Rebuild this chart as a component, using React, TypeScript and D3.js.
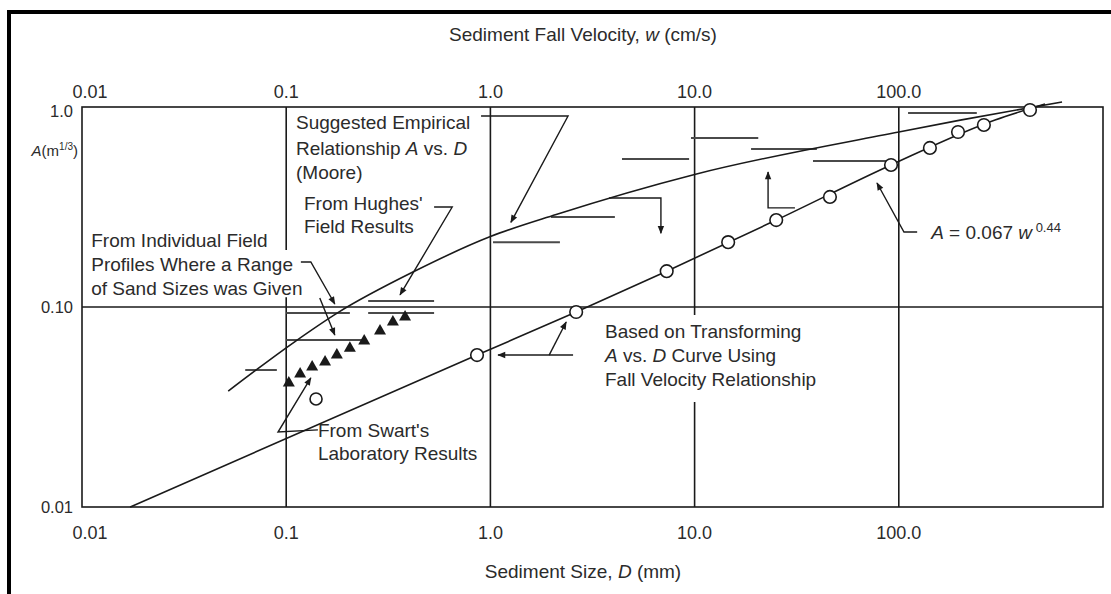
import React from 'react';
import * as d3 from 'd3';

// ---------- data ----------
const decadeValues = [0.01, 0.1, 1, 10, 100];
const decadeLabels = ['0.01', '0.1', '1.0', '10.0', '100.0'];
const yTickValues = [1, 0.1, 0.01];
const yTickLabels = ['1.0', '0.10', '0.01'];

// Suggested empirical relationship A vs D (Moore)
const mooreD = [0.052, 0.11, 0.18, 0.42, 1.0, 2.1, 10, 100, 200, 630];
const mooreA = [0.038, 0.067, 0.094, 0.15, 0.225, 0.29, 0.46, 0.75, 0.86, 1.06];

// Transformed curve A = 0.067 w^0.44
const transD = [0.0172, 0.86, 2.63, 7.3, 25.1, 91.6, 296, 520];
const transA = [0.01, 0.0575, 0.0944, 0.151, 0.272, 0.513, 0.861, 1.035];

// Open circles on transformed curve
const circleD = [0.86, 2.63, 7.3, 14.6, 25.1, 46, 91.6, 142, 195, 261, 439];
const circleA = [0.0575, 0.0944, 0.151, 0.211, 0.272, 0.355, 0.513, 0.624, 0.75, 0.813, 0.966];

// Isolated open circle
const swartCircleD = [0.14];
const swartCircleA = [0.0347];

// Filled triangles
const triD = [0.103, 0.117, 0.134, 0.155, 0.177, 0.205, 0.241, 0.288, 0.333, 0.382];
const triA = [0.0422, 0.0468, 0.0507, 0.0537, 0.0582, 0.063, 0.0684, 0.0767, 0.0851, 0.0902];

// Horizontal range bars (field results)
const barD1 = [0.1, 0.252, 0.252, 0.1, 0.063, 1.03, 1.98, 4.41, 9.6, 18.9, 38, 111];
const barD2 = [0.205, 0.53, 0.53, 0.235, 0.09, 2.19, 4.07, 9.4, 20.5, 39.7, 90.6, 241];
const barA = [0.0933, 0.107, 0.0933, 0.0684, 0.0484, 0.211, 0.282, 0.55, 0.7, 0.617, 0.537, 0.933];

// ---------- component ----------
const FONT = "'Liberation Sans', Arial, Helvetica, sans-serif";
const INK = '#1a1a1a';
const TXT = '#2b2b2b';

export default function App() {
  const W = 1111, H = 594;
  const x = d3.scaleLog().domain([0.01, 1000]).range([82, 1103]);
  const y = d3.scaleLog().domain([0.01, 1]).range([507, 107]);
  const P = (d: number, a: number) => [x(d), y(a)] as [number, number];
  const pl = (pts: [number, number][]) => pts.map(([d, a]) => P(d, a).join(',')).join(' ');

  const line = d3.line<[number, number]>().x(d => x(d[0])).y(d => y(d[1])).curve(d3.curveMonotoneX);
  const moorePts = mooreD.map((d, i) => [d, mooreA[i]] as [number, number]);
  const transPts = transD.map((d, i) => [d, transA[i]] as [number, number]);

  const fs = 19;
  const triPath = (cx: number, cy: number) => {
    const s = 6;
    return `M${cx},${cy - s} L${cx + s},${cy + s * 0.75} L${cx - s},${cy + s * 0.75} Z`;
  };

  // vertical gridlines with gaps (data units for A)
  const vGrid: { d: number; gaps: [number, number][] }[] = [
    { d: 0.1, gaps: [[0.112, 0.193]] },
    { d: 1, gaps: [] },
    { d: 10, gaps: [[0.0335, 0.0912]] },
    { d: 100, gaps: [] },
  ];
  const vSegments = vGrid.flatMap(g => {
    const stops: number[] = [0.01];
    g.gaps.forEach(([lo, hi]) => { stops.push(lo, hi); });
    stops.push(1);
    const segs: [number, number][] = [];
    for (let i = 0; i < stops.length; i += 2) segs.push([stops[i], stops[i + 1]]);
    return segs.map(s => ({ d: g.d, a0: s[0], a1: s[1] }));
  });

  const textProps = { fontFamily: FONT, fontSize: fs, fill: TXT };
  const tickDx = (i: number) => (i === 0 ? 8 : 0);

  return (
    <svg width={W} height={H} style={{ position: 'absolute', left: 0, top: 0, background: '#fff' }}>
      <defs>
        <marker id="arr" viewBox="0 0 10 10" refX="9" refY="5" markerWidth="10" markerHeight="8"
          markerUnits="userSpaceOnUse" orient="auto">
          <path d="M0,1 L10,5 L0,9 Z" fill={INK} />
        </marker>
      </defs>
      <rect x={0} y={0} width={W} height={H} fill="#fff" />
      {/* outer frame */}
      <line x1={7} y1={12} x2={W} y2={12} stroke="#000" strokeWidth={4} />
      <line x1={9} y1={10} x2={9} y2={H} stroke="#000" strokeWidth={4} />

      {/* plot border */}
      <rect x={x(0.01)} y={y(1)} width={x(1000) - x(0.01)} height={y(0.01) - y(1)}
        fill="none" stroke={INK} strokeWidth={1.6} />
      {/* grid */}
      {vSegments.map((s, i) => (
        <line key={'vg' + i} x1={x(s.d)} x2={x(s.d)} y1={y(s.a0)} y2={y(s.a1)} stroke={INK} strokeWidth={1.6} />
      ))}
      <line x1={x(0.01)} x2={x(1000)} y1={y(0.1)} y2={y(0.1)} stroke={INK} strokeWidth={1.6} />

      {/* tick labels */}
      {decadeValues.map((v, i) => (
        <text key={'tt' + i} x={x(v) + tickDx(i)} y={98} textAnchor="middle" {...textProps} fontSize={18}>{decadeLabels[i]}</text>
      ))}
      {decadeValues.map((v, i) => (
        <text key={'bt' + i} x={x(v) + tickDx(i)} y={539} textAnchor="middle" {...textProps} fontSize={18}>{decadeLabels[i]}</text>
      ))}
      {yTickValues.map((v, i) => (
        <text key={'yt' + i} x={73} y={y(v) + (i === 0 ? 4 : 0)} dy="0.35em" textAnchor="end" {...textProps} fontSize={16.5}>{yTickLabels[i]}</text>
      ))}
      <text x={78} y={156} textAnchor="end" {...textProps} fontSize={15}>
        <tspan fontStyle="italic">A</tspan>(m<tspan dy={-6} fontSize={10}>1/3</tspan><tspan dy={6}>)</tspan>
      </text>

      {/* axis titles */}
      <text x={583} y={41} textAnchor="middle" {...textProps}>
        Sediment Fall Velocity, <tspan fontStyle="italic">w</tspan> (cm/s)
      </text>
      <text x={583} y={578} textAnchor="middle" {...textProps}>
        Sediment Size, <tspan fontStyle="italic">D</tspan> (mm)
      </text>

      {/* bars */}
      {barA.map((a, i) => (
        <line key={'bar' + i} x1={x(barD1[i])} x2={x(barD2[i])} y1={y(a)} y2={y(a)} stroke="#4a4a4a" strokeWidth={2} />
      ))}

      {/* curves */}
      <path d={line(moorePts) || ''} fill="none" stroke={INK} strokeWidth={1.6} />
      <path d={line(transPts) || ''} fill="none" stroke={INK} strokeWidth={1.6} />

      {/* circles */}
      {circleD.map((d, i) => (
        <circle key={'c' + i} cx={x(d)} cy={y(circleA[i])} r={6.3} fill="#fff" stroke={INK} strokeWidth={1.6} />
      ))}
      {swartCircleD.map((d, i) => (
        <circle key={'sc' + i} cx={x(d)} cy={y(swartCircleA[i])} r={6} fill="#fff" stroke={INK} strokeWidth={1.6} />
      ))}
      {/* triangles */}
      {triD.map((d, i) => (
        <path key={'t' + i} d={triPath(x(d), y(triA[i]))} fill={INK} />
      ))}

      {/* leader lines */}
      <g fill="none" stroke={INK} strokeWidth={1.4}>
        <polyline points={pl([[0.9, 0.902], [2.4, 0.902], [1.26, 0.265]])} markerEnd="url(#arr)" />
        <polyline points={pl([[0.53, 0.316], [0.65, 0.316], [0.361, 0.115]])} markerEnd="url(#arr)" />
        <polyline points={pl([[0.118, 0.168], [0.132, 0.168], [0.173, 0.1035]])} markerEnd="url(#arr)" />
        <polyline points={pl([[0.146, 0.111], [0.173, 0.0724]])} markerEnd="url(#arr)" />
        <polyline points={pl([[0.143, 0.0243], [0.0912, 0.0237], [0.132, 0.0442]])} markerEnd="url(#arr)" />
        <polyline points={pl([[2.54, 0.0575], [1.09, 0.0575]])} markerEnd="url(#arr)" />
        <polyline points={pl([[1.94, 0.0575], [2.35, 0.0841]])} markerEnd="url(#arr)" />
        <polyline points={pl([[3.81, 0.351], [6.84, 0.351], [6.84, 0.234]])} markerEnd="url(#arr)" />
        <polyline points={pl([[31, 0.313], [22.9, 0.313], [22.9, 0.473]])} markerEnd="url(#arr)" />
        <polyline points={pl([[123, 0.237], [106, 0.237], [78.2, 0.417]])} markerEnd="url(#arr)" />
      </g>

      {/* annotations */}
      <g {...textProps}>
        <text x={x(0.1117)} y={y(0.841)} dy="0.35em">Suggested Empirical</text>
        <text x={x(0.1117)} y={y(0.624)} dy="0.35em">
          Relationship <tspan fontStyle="italic">A</tspan> vs. <tspan fontStyle="italic">D</tspan>
        </text>
        <text x={x(0.1117)} y={y(0.473)} dy="0.35em">(Moore)</text>

        <text x={x(0.1222)} y={y(0.331)} dy="0.35em">From Hughes'</text>
        <text x={x(0.1222)} y={y(0.254)} dy="0.35em">Field Results</text>

        <text x={x(0.0111)} y={y(0.216)} dy="0.35em">From Individual Field</text>
        <text x={x(0.0111)} y={y(0.164)} dy="0.35em">Profiles Where a Range</text>
        <text x={x(0.0111)} y={y(0.1245)} dy="0.35em">of Sand Sizes was Given</text>

        <text x={x(0.143)} y={y(0.0243)} dy="0.35em">From Swart's</text>
        <text x={x(0.143)} y={y(0.0186)} dy="0.35em">Laboratory Results</text>

        <text x={x(3.64)} y={y(0.0759)} dy="0.35em">Based on Transforming</text>
        <text x={x(3.64)} y={y(0.0575)} dy="0.35em">
          <tspan fontStyle="italic">A</tspan> vs. <tspan fontStyle="italic">D</tspan> Curve Using
        </text>
        <text x={x(3.64)} y={y(0.0437)} dy="0.35em">Fall Velocity Relationship</text>

        <text x={x(144)} y={y(0.237)} dy="0.35em">
          <tspan fontStyle="italic">A</tspan> = 0.067 <tspan fontStyle="italic">w</tspan>
          <tspan dy={-7} fontSize={13}> 0.44</tspan>
        </text>
      </g>
    </svg>
  );
}
